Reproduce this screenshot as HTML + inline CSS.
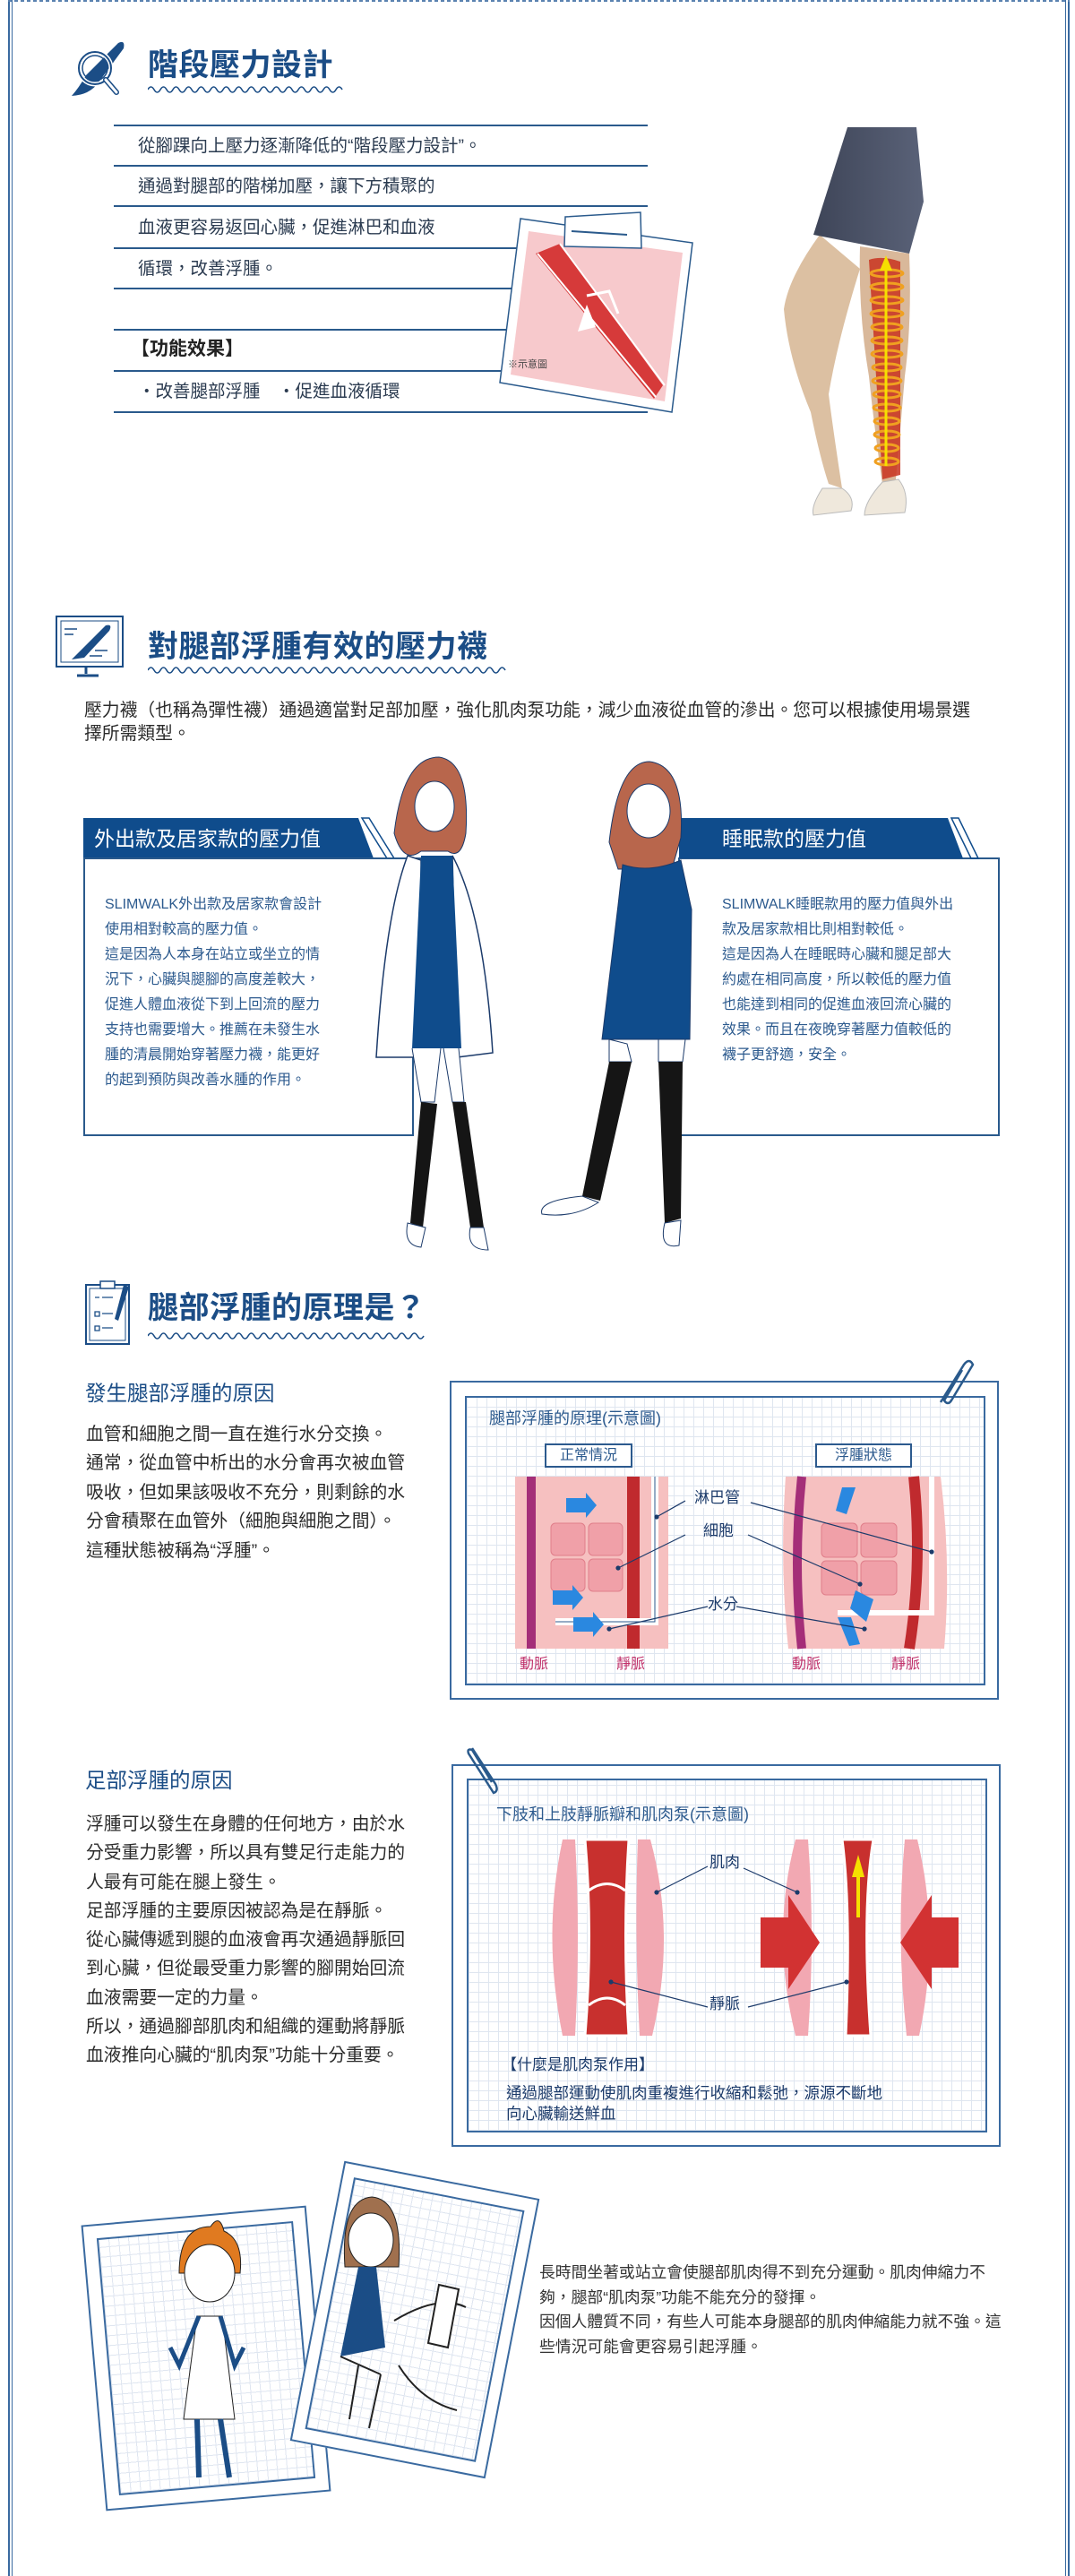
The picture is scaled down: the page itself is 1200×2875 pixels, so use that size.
<!DOCTYPE html>
<html><head><meta charset="utf-8">
<style>
*{margin:0;padding:0;box-sizing:border-box}
body{width:1200px;height:2875px;position:relative;background:#fff;font-family:"Liberation Sans","Noto Sans CJK TC",sans-serif;color:#333;overflow:hidden}
.a{position:absolute}
.h{position:absolute;font-size:34px;font-weight:bold;color:#1b4d86;line-height:36px;white-space:nowrap;letter-spacing:0.5px}
.t{position:absolute;white-space:nowrap}
.grid{background-color:#fff;background-image:repeating-linear-gradient(0deg,#dfe6f0 0 1px,transparent 1px 11px),repeating-linear-gradient(90deg,#dfe6f0 0 1px,transparent 1px 11px)}
.hl{position:absolute;left:127px;width:596px;height:2px;background:#2a5a8c}
.r1{position:absolute;left:154px;font-size:19.5px;line-height:24px;color:#2b3b50;white-space:nowrap}
</style></head><body>

<!-- page frame -->
<div class="a" style="left:9px;top:0;width:2px;height:2875px;background:#3a6aa0"></div>
<div class="a" style="left:13px;top:0;width:1px;height:2875px;background:#3a6aa0"></div>
<div class="a" style="left:1189px;top:0;width:1px;height:2875px;background:#3a6aa0"></div>
<div class="a" style="left:1192px;top:0;width:2px;height:2875px;background:#3a6aa0"></div>
<div class="a" style="left:9px;top:0;width:1185px;height:2px;background:repeating-linear-gradient(90deg,#5a82b0 0 4px,transparent 4px 7px)"></div>

<!-- SECTION 1 -->
<svg class="a" style="left:70px;top:40px" width="80" height="75" viewBox="0 0 80 75">
<path d="M62 8 Q70 4 68 14 L40 52 Q30 66 10 67 Q18 58 26 44 Z" fill="#1b4d86"/>
<circle cx="36" cy="36" r="18" fill="none" stroke="#fff" stroke-width="5"/>
<circle cx="36" cy="36" r="18" fill="none" stroke="#1b4d86" stroke-width="2"/>
<circle cx="36" cy="36" r="14" fill="none" stroke="#1b4d86" stroke-width="1.5"/>
<path d="M48 49 L60 63" stroke="#1b4d86" stroke-width="6" stroke-linecap="round"/>
<path d="M48 49 L60 63" stroke="#fff" stroke-width="3" stroke-linecap="round"/>
</svg>
<div class="h" style="left:165px;top:55px">階段壓力設計</div>
<svg class="a" style="left:165px;top:94px" width="220" height="12"><path d="M0 6 q3.5 -6 7 0 t7 0 t7 0 t7 0 t7 0 t7 0 t7 0 t7 0 t7 0 t7 0 t7 0 t7 0 t7 0 t7 0 t7 0 t7 0 t7 0 t7 0 t7 0 t7 0 t7 0 t7 0 t7 0 t7 0 t7 0 t7 0 t7 0 t7 0 t7 0 t7 0 t7 0" fill="none" stroke="#1b4d86" stroke-width="1.6"/></svg>

<div class="hl" style="top:139px"></div>
<div class="hl" style="top:184px"></div>
<div class="hl" style="top:229px"></div>
<div class="hl" style="top:276px"></div>
<div class="hl" style="top:321px"></div>
<div class="hl" style="top:367px"></div>
<div class="hl" style="top:413px"></div>
<div class="hl" style="top:459px"></div>
<div class="r1" style="top:151px">從腳踝向上壓力逐漸降低的“階段壓力設計”。</div>
<div class="r1" style="top:196px">通過對腿部的階梯加壓，讓下方積聚的</div>
<div class="r1" style="top:242px">血液更容易返回心臟，促進淋巴和血液</div>
<div class="r1" style="top:288px">循環，改善浮腫。</div>
<div class="r1" style="left:146px;top:378px;font-size:21px;font-weight:bold;color:#222">【功能效果】</div>
<div class="r1" style="top:425px">・改善腿部浮腫　・促進血液循環</div>

<!-- note -->
<svg class="a" style="left:550px;top:230px" width="235" height="240" viewBox="550 230 235 240">
<polygon points="581,244 773,271 750,460 558,427" fill="#fff" stroke="#2a5a8c" stroke-width="1.5"/>
<polygon points="590,258 762,282 742,448 570,418" fill="#f7c9cc"/>
<polygon points="598,283 625,272 740,430 730,445" fill="#d63a3a"/>
<path d="M600 283 L732 443 M625 272 L742 430" stroke="#fff" stroke-width="2"/>
<path d="M655 330 L680 325 L690 350" fill="none" stroke="#fff" stroke-width="3"/>
<path d="M645 370 l10 -30 l10 25 z" fill="#fff"/>
<polygon points="631,242 715,237 716,277 630,275" fill="#fff" stroke="#2a5a8c" stroke-width="1.5"/>
<line x1="638" y1="258" x2="700" y2="262" stroke="#2a5a8c" stroke-width="2"/>
<text x="567" y="410" font-size="11" fill="#444" font-family="Liberation Sans,Noto Sans CJK TC,sans-serif">※示意圖</text>
</svg>

<!-- leg photo -->
<svg class="a" style="left:860px;top:140px" width="190" height="440" viewBox="860 140 190 440">
<defs><linearGradient id="sk" x1="0" x2="1"><stop offset="0" stop-color="#3e4558"/><stop offset="1" stop-color="#5a6278"/></linearGradient></defs>
<path d="M915 262 Q880 310 875 345 Q880 400 905 460 Q915 510 925 540 L940 545 Q930 480 925 440 Q935 380 960 300 Z" fill="#dcc0a2"/>
<path d="M960 275 L1015 283 Q1018 360 1010 420 Q1005 480 1000 535 L985 540 Q975 470 970 420 Q958 350 960 275 Z" fill="#d9b89a"/>
<path d="M970 290 Q985 285 1005 292 L1005 530 L985 535 Z" fill="#c8321e" opacity="0.85"/>
<g fill="none" stroke="#f0a020" stroke-width="3">
<ellipse cx="990" cy="305" rx="18" ry="4"/><ellipse cx="990" cy="320" rx="18" ry="4"/><ellipse cx="990" cy="335" rx="18" ry="4"/><ellipse cx="990" cy="350" rx="18" ry="4"/><ellipse cx="990" cy="365" rx="17" ry="4"/><ellipse cx="990" cy="380" rx="17" ry="4"/><ellipse cx="990" cy="395" rx="17" ry="4"/><ellipse cx="990" cy="410" rx="16" ry="4"/><ellipse cx="990" cy="425" rx="16" ry="4"/><ellipse cx="990" cy="440" rx="15" ry="4"/><ellipse cx="990" cy="455" rx="15" ry="4"/><ellipse cx="990" cy="470" rx="14" ry="4"/><ellipse cx="990" cy="485" rx="14" ry="4"/><ellipse cx="990" cy="500" rx="13" ry="4"/><ellipse cx="990" cy="515" rx="13" ry="4"/></g>
<path d="M989 520 L989 300" stroke="#f5e000" stroke-width="3"/><path d="M982 302 L989 285 L996 302 Z" fill="#f5e000"/>
<polygon points="946,142 1023,142 1031,225 1015,283 908,262" fill="url(#sk)"/>
<path d="M918 545 Q905 565 908 575 L950 570 Q955 555 940 545 Z" fill="#efe8dc" stroke="#bbb"/>
<path d="M985 538 Q965 560 965 575 L1010 572 Q1015 550 1003 535 Z" fill="#efe8dc" stroke="#bbb"/>
</svg>

<!-- SECTION 2 -->
<svg class="a" style="left:60px;top:686px" width="82" height="75" viewBox="0 0 82 75">
<rect x="3" y="2" width="74" height="56" fill="#fff" stroke="#1b4d86" stroke-width="2"/>
<rect x="8" y="7" width="64" height="46" fill="none" stroke="#1b4d86" stroke-width="1"/>
<path d="M58 12 Q66 10 62 18 L34 48 L20 50 Z" fill="#1b4d86"/>
<path d="M12 16 h14 M12 22 h10 M46 40 h14 M40 46 h14" stroke="#1b4d86" stroke-width="1.5"/>
<path d="M36 58 v8 M26 68 h24" stroke="#1b4d86" stroke-width="3"/>
</svg>
<div class="h" style="left:165px;top:704px">對腿部浮腫有效的壓力襪</div>
<svg class="a" style="left:165px;top:742px" width="400" height="12"><path d="M0 6 q3.5 -6 7 0 t7 0 t7 0 t7 0 t7 0 t7 0 t7 0 t7 0 t7 0 t7 0 t7 0 t7 0 t7 0 t7 0 t7 0 t7 0 t7 0 t7 0 t7 0 t7 0 t7 0 t7 0 t7 0 t7 0 t7 0 t7 0 t7 0 t7 0 t7 0 t7 0 t7 0 t7 0 t7 0 t7 0 t7 0 t7 0 t7 0 t7 0 t7 0 t7 0 t7 0 t7 0 t7 0 t7 0 t7 0 t7 0 t7 0 t7 0 t7 0 t7 0 t7 0 t7 0 t7 0 t7 0 t7 0 t7 0 t7 0" fill="none" stroke="#1b4d86" stroke-width="1.6"/></svg>
<div class="t" style="left:94px;top:780px;font-size:19.8px;line-height:26px;color:#2b2b2b">壓力襪（也稱為彈性襪）通過適當對足部加壓，強化肌肉泵功能，減少血液從血管的滲出。您可以根據使用場景選<br>擇所需類型。</div>

<!-- left box -->
<svg class="a" style="left:85px;top:905px" width="400" height="370" viewBox="85 905 400 370">
<polygon points="93,913 400,913 417,958 93,958" fill="#0f4c8c"/>
<polygon points="404,913 412,913 440,958 432,958" fill="none" stroke="#0f4c8c" stroke-width="1.5"/>
<polyline points="440,958 470,958" stroke="#2a5a8c" stroke-width="2" fill="none"/>
<rect x="94" y="958" width="367" height="309" fill="#fff" stroke="#2a5a8c" stroke-width="2"/>
</svg>
<div class="t" style="left:105px;top:921px;font-size:23px;line-height:30px;color:#fff">外出款及居家款的壓力值</div>
<div class="t" style="left:117px;top:996px;font-size:16px;line-height:28px;color:#2c5a8e">SLIMWALK外出款及居家款會設計<br>使用相對較高的壓力值。<br>這是因為人本身在站立或坐立的情<br>況下，心臟與腿腳的高度差較大，<br>促進人體血液從下到上回流的壓力<br>支持也需要增大。推薦在未發生水<br>腫的清晨開始穿著壓力襪，能更好<br>的起到預防與改善水腫的作用。</div>

<!-- right box -->
<svg class="a" style="left:750px;top:905px" width="380" height="370" viewBox="750 905 380 370">
<rect x="758" y="958" width="357" height="309" fill="#fff" stroke="#2a5a8c" stroke-width="2"/>
<polygon points="758,913 1058,913 1075,958 758,958" fill="#0f4c8c"/>
<polygon points="1062,913 1070,913 1092,958 1084,958" fill="none" stroke="#0f4c8c" stroke-width="1.5"/>
</svg>
<div class="t" style="left:806px;top:921px;font-size:23px;line-height:30px;color:#fff">睡眠款的壓力值</div>
<div class="t" style="left:806px;top:996px;font-size:16px;line-height:28px;color:#2c5a8e">SLIMWALK睡眠款用的壓力值與外出<br>款及居家款相比則相對較低。<br>這是因為人在睡眠時心臟和腿足部大<br>約處在相同高度，所以較低的壓力值<br>也能達到相同的促進血液回流心臟的<br>效果。而且在夜晚穿著壓力值較低的<br>襪子更舒適，安全。</div>

<!-- girls -->
<svg class="a" style="left:400px;top:840px" width="400" height="565" viewBox="400 840 400 565">
<!-- left girl -->
<path d="M440 930 Q450 845 490 845 Q525 850 520 930 Q515 960 500 950 L470 950 Q450 965 440 930 Z" fill="#b8664c" stroke="#1b3a6a"/>
<ellipse cx="485" cy="900" rx="22" ry="28" fill="#fff" stroke="#1b3a6a"/>
<path d="M465 880 Q480 860 505 880 L505 870 Q485 850 462 875 Z" fill="#b8664c"/>
<path d="M455 955 Q430 1020 420 1180 L470 1180 L470 960 Z M505 955 Q540 1020 550 1175 L510 1180 Z" fill="#fff" stroke="#1b3a6a" stroke-width="1.5"/>
<path d="M470 955 L505 955 L515 1170 L460 1170 Z" fill="#0f4c8c"/>
<path d="M460 1170 L470 1230 L485 1230 L492 1170 M495 1170 L505 1230 L518 1230 L512 1170" fill="#fff" stroke="#1b3a6a"/>
<path d="M470 1230 L458 1365 L472 1370 L488 1232 Z M505 1230 L525 1370 L540 1370 L520 1230 Z" fill="#151515"/>
<path d="M455 1365 Q450 1390 470 1392 L475 1370 Z M525 1370 Q520 1395 545 1395 L540 1370 Z" fill="#fff" stroke="#1b3a6a"/>
<!-- right girl -->
<path d="M680 940 Q690 850 725 850 Q765 855 760 935 L750 970 L690 970 Z" fill="#b8664c" stroke="#1b3a6a"/>
<ellipse cx="724" cy="905" rx="24" ry="30" fill="#fff" stroke="#1b3a6a"/>
<path d="M700 885 Q720 860 748 885 L745 870 Q722 852 700 875 Z" fill="#b8664c"/>
<path d="M695 965 Q725 975 760 960 L772 1015 L770 1160 L672 1160 L690 1010 Z" fill="#0f4c8c" stroke="#1b3a6a"/>
<path d="M680 1160 L700 1165 L705 1185 L680 1185 Z M735 1160 L765 1160 L762 1185 L735 1185 Z" fill="#fff" stroke="#1b3a6a"/>
<path d="M680 1185 L705 1185 L670 1340 L650 1335 Z M735 1185 L762 1185 L760 1360 L742 1365 Z" fill="#151515"/>
<path d="M650 1335 Q600 1340 605 1355 Q640 1360 668 1342 Z M742 1365 Q735 1395 758 1390 L760 1362 Z" fill="#fff" stroke="#1b3a6a"/>
</svg>

<!-- SECTION 3 -->
<svg class="a" style="left:94px;top:1428px" width="56" height="76" viewBox="0 0 56 76">
<rect x="2" y="6" width="48" height="66" fill="#fff" stroke="#1b4d86" stroke-width="2"/>
<rect x="6" y="10" width="40" height="58" fill="none" stroke="#1b4d86" stroke-width="1"/>
<rect x="18" y="2" width="16" height="8" fill="#fff" stroke="#1b4d86" stroke-width="1.5"/>
<path d="M12 20 h5 M12 36 h5 v5 h-5z M12 52 h5 v5 h-5z M20 20 h12 M20 38 h12 M20 54 h12" stroke="#1b4d86" stroke-width="1.3" fill="none"/>
<path d="M44 6 L50 8 L38 46 L34 44 Z" fill="#1b4d86"/>
</svg>
<div class="h" style="left:165px;top:1442px">腿部浮腫的原理是？</div>
<svg class="a" style="left:165px;top:1485px" width="312" height="12"><path d="M0 6 q3.5 -6 7 0 t7 0 t7 0 t7 0 t7 0 t7 0 t7 0 t7 0 t7 0 t7 0 t7 0 t7 0 t7 0 t7 0 t7 0 t7 0 t7 0 t7 0 t7 0 t7 0 t7 0 t7 0 t7 0 t7 0 t7 0 t7 0 t7 0 t7 0 t7 0 t7 0 t7 0 t7 0 t7 0 t7 0 t7 0 t7 0 t7 0 t7 0 t7 0 t7 0 t7 0 t7 0 t7 0 t7 0" fill="none" stroke="#1b4d86" stroke-width="1.6"/></svg>

<div class="t" style="left:95px;top:1540px;font-size:23.5px;line-height:30px;color:#1b4d86">發生腿部浮腫的原因</div>
<div class="t" style="left:96px;top:1585px;font-size:19.8px;line-height:32.4px;color:#2b2b2b">血管和細胞之間一直在進行水分交換。<br>通常，從血管中析出的水分會再次被血管<br>吸收，但如果該吸收不充分，則剩餘的水<br>分會積聚在血管外（細胞與細胞之間）。<br>這種狀態被稱為“浮腫”。</div>

<div class="a" style="left:502px;top:1541px;width:613px;height:356px;border:2px solid #3a6aa0;background:#fff"></div>
<div class="a grid" style="left:519px;top:1558px;width:581px;height:323px;border:2px solid #3a6aa0"></div>
<svg class="a" style="left:1040px;top:1515px" width="50" height="60"><path d="M10 50 L36 8 Q42 0 46 8 L22 48 Q18 54 14 48 L34 14" fill="none" stroke="#2a5a8c" stroke-width="2.5"/></svg>
<div class="t" style="left:546px;top:1571px;font-size:18px;line-height:24px;color:#2c5a8e">腿部浮腫的原理(示意圖)</div>
<div class="t" style="left:608px;top:1611px;width:98px;height:27px;border:2px solid #2c5a8e;background:#fff;font-size:16px;line-height:23px;text-align:center;color:#2c5a8e">正常情況</div>
<div class="t" style="left:910px;top:1611px;width:108px;height:27px;border:2px solid #2c5a8e;background:#fff;font-size:16px;line-height:23px;text-align:center;color:#2c5a8e">浮腫狀態</div>
<svg class="a" style="left:560px;top:1640px" width="510" height="210" viewBox="560 1640 510 210">
<rect x="575" y="1648" width="171" height="192" fill="#f6c0c0"/>
<rect x="588" y="1648" width="10" height="192" fill="#a42e78"/>
<rect x="700" y="1648" width="14" height="192" fill="#c02a2e"/>
<path d="M731 1648 V1810 H620" fill="none" stroke="#fff" stroke-width="8"/>
<path d="M731 1648 V1810 H620" fill="none" stroke="#2c5a8e" stroke-width="1"/>
<g fill="#f0a0a8" stroke="#e07e8a"><rect x="615" y="1700" width="38" height="36" rx="5"/><rect x="657" y="1700" width="38" height="36" rx="5"/><rect x="615" y="1740" width="38" height="36" rx="5"/><rect x="657" y="1740" width="38" height="36" rx="5"/></g>
<g fill="#2a88e0"><path d="M632 1672 h22 v-6 l12 14 l-12 14 v-6 h-22z"/><path d="M617 1775 h22 v-6 l12 14 l-12 14 v-6 h-22z"/><path d="M640 1805 h22 v-6 l12 14 l-12 14 v-6 h-22z"/></g>
<path d="M877 1648 Q870 1745 880 1840 H1054 Q1062 1745 1050 1648 Z" fill="#f6c0c0"/>
<path d="M895 1648 Q885 1745 895 1840" stroke="#a42e78" stroke-width="10" fill="none"/>
<path d="M1020 1648 Q1030 1745 1015 1840" stroke="#c02a2e" stroke-width="12" fill="none"/>
<path d="M1040 1648 V1800 H935" fill="none" stroke="#fff" stroke-width="6"/>
<g fill="#f0a0a8" stroke="#e07e8a"><rect x="917" y="1700" width="40" height="38" rx="5"/><rect x="961" y="1700" width="40" height="38" rx="5"/><rect x="917" y="1742" width="40" height="38" rx="5"/><rect x="961" y="1742" width="40" height="38" rx="5"/></g>
<g fill="#2a88e0"><path d="M940 1660 l15 0 l-10 30 l-12 -4 z"/><path d="M955 1775 l20 10 l-8 25 l-18 -15 z"/><path d="M935 1805 l15 0 l10 30 l-12 2 z"/></g>
<g stroke="#1b3a6a" stroke-width="1.2" fill="#1b3a6a"><line x1="733" y1="1693" x2="765" y2="1675"/><circle cx="733" cy="1693" r="2"/><line x1="838" y1="1677" x2="1040" y2="1732"/><circle cx="1040" cy="1732" r="2"/><line x1="690" y1="1750" x2="765" y2="1713"/><circle cx="690" cy="1750" r="2"/><line x1="835" y1="1713" x2="960" y2="1768"/><circle cx="960" cy="1768" r="2"/><line x1="680" y1="1818" x2="790" y2="1793"/><circle cx="680" cy="1818" r="2"/><line x1="822" y1="1793" x2="965" y2="1818"/><circle cx="965" cy="1818" r="2"/></g>
</svg>
<div class="t" style="left:775px;top:1661px;font-size:17px;line-height:22px;color:#1b3a6a;background:rgba(255,255,255,.8)">淋巴管</div>
<div class="t" style="left:785px;top:1698px;font-size:17px;line-height:22px;color:#1b3a6a">細胞</div>
<div class="t" style="left:790px;top:1780px;font-size:17px;line-height:22px;color:#1b3a6a">水分</div>
<div class="t" style="left:580px;top:1848px;font-size:16px;line-height:20px;color:#c0306a">動脈</div>
<div class="t" style="left:688px;top:1848px;font-size:16px;line-height:20px;color:#c0306a">靜脈</div>
<div class="t" style="left:884px;top:1848px;font-size:16px;line-height:20px;color:#c0306a">動脈</div>
<div class="t" style="left:995px;top:1848px;font-size:16px;line-height:20px;color:#c0306a">靜脈</div>

<!-- SECTION 4 -->
<div class="t" style="left:95px;top:1972px;font-size:23.5px;line-height:30px;color:#1b4d86">足部浮腫的原因</div>
<div class="t" style="left:96px;top:2020px;font-size:19.8px;line-height:32.3px;color:#2b2b2b">浮腫可以發生在身體的任何地方，由於水<br>分受重力影響，所以具有雙足行走能力的<br>人最有可能在腿上發生。<br>足部浮腫的主要原因被認為是在靜脈。<br>從心臟傳遞到腿的血液會再次通過靜脈回<br>到心臟，但從最受重力影響的腳開始回流<br>血液需要一定的力量。<br>所以，通過腳部肌肉和組織的運動將靜脈<br>血液推向心臟的“肌肉泵”功能十分重要。</div>

<div class="a" style="left:504px;top:1969px;width:613px;height:427px;border:2px solid #3a6aa0;background:#fff"></div>
<div class="a grid" style="left:521px;top:1985px;width:581px;height:395px;border:2px solid #3a6aa0"></div>
<svg class="a" style="left:515px;top:1945px" width="50" height="60"><path d="M12 6 L38 46 Q42 54 36 56 L8 12 Q6 6 12 8 L34 44" fill="none" stroke="#2a5a8c" stroke-width="2.5"/></svg>
<div class="t" style="left:554px;top:2013px;font-size:18px;line-height:24px;color:#2c5a8e">下肢和上肢靜脈瓣和肌肉泵(示意圖)</div>
<svg class="a" style="left:600px;top:2050px" width="480" height="230" viewBox="600 2050 480 230">
<g fill="#f2a8b2"><path d="M628 2053 L642 2053 Q648 2160 642 2272 L628 2272 Q605 2160 628 2053 Z"/><path d="M712 2053 L726 2053 Q755 2160 728 2272 L714 2272 Q708 2160 712 2053 Z"/>
<path d="M888 2053 L902 2053 Q910 2160 902 2272 L888 2272 Q860 2160 888 2053 Z"/><path d="M1010 2053 L1024 2053 Q1050 2160 1026 2272 L1012 2272 Q1000 2160 1010 2053 Z"/></g>
<path d="M653 2053 H702 Q695 2160 702 2272 H653 Q662 2160 653 2053 Z" fill="#c8302e" stroke="#fff" stroke-width="3"/>
<path d="M940 2053 H975 Q962 2130 972 2272 H944 Q950 2130 940 2053 Z" fill="#c8302e" stroke="#fff" stroke-width="3"/>
<path d="M657 2110 Q678 2095 698 2110 M657 2238 Q678 2222 698 2238" stroke="#fff" stroke-width="3" fill="none"/>
<path d="M958 2070 L965 2095 L960 2095 L960 2140 L956 2140 L956 2095 L951 2095 Z" fill="#f5e000"/>
<path d="M849 2140 H880 V2115 L915 2168 L880 2220 V2196 H849 Z" fill="#d23232"/>
<path d="M1070 2140 H1040 V2115 L1005 2168 L1040 2220 V2196 H1070 Z" fill="#d23232"/>
<g stroke="#1b3a6a" stroke-width="1.2" fill="#1b3a6a"><line x1="733" y1="2112" x2="790" y2="2083"/><circle cx="733" cy="2112" r="2"/><line x1="830" y1="2085" x2="890" y2="2112"/><circle cx="890" cy="2112" r="2"/><line x1="682" y1="2212" x2="790" y2="2240"/><circle cx="682" cy="2212" r="2"/><line x1="835" y1="2240" x2="945" y2="2212"/><circle cx="945" cy="2212" r="2"/></g>
</svg>
<div class="t" style="left:792px;top:2068px;font-size:17px;line-height:22px;color:#1b3a6a">肌肉</div>
<div class="t" style="left:792px;top:2226px;font-size:17px;line-height:22px;color:#1b3a6a">靜脈</div>
<div class="t" style="left:560px;top:2293px;font-size:17px;line-height:24px;color:#1b3a6a">【什麼是肌肉泵作用】</div>
<div class="t" style="left:565px;top:2325px;font-size:17.5px;line-height:23px;color:#1b3a6a">通過腿部運動使肌肉重複進行收縮和鬆弛，源源不斷地<br>向心臟輸送鮮血</div>

<!-- SECTION 5 photos -->
<div class="a" style="left:104px;top:2472px;width:252px;height:320px;border:2px solid #3a6aa0;background:#fff;transform:rotate(-5deg);transform-origin:center">
<div class="grid" style="position:absolute;left:14px;top:14px;right:14px;bottom:14px;border:2px solid #3a6aa0"></div></div>
<div class="a" style="left:352px;top:2430px;width:222px;height:318px;border:2px solid #3a6aa0;background:#fff;transform:rotate(11deg);transform-origin:center">
<div class="grid" style="position:absolute;left:12px;top:14px;right:12px;bottom:14px;border:2px solid #3a6aa0"></div></div>
<svg class="a" style="left:140px;top:2440px" width="420" height="340" viewBox="140 2440 420 340">
<!-- standing woman -->
<path d="M200 2537 Q200 2485 235 2485 Q245 2470 250 2490 Q272 2500 268 2537 Z" fill="#e07a20" stroke="#222"/>
<ellipse cx="234" cy="2537" rx="28" ry="32" fill="#fff" stroke="#222"/>
<path d="M220 2585 L248 2585 L262 2700 L205 2700 Z" fill="#fff" stroke="#222"/>
<path d="M222 2585 L200 2640 L190 2620 M246 2585 L262 2640 L272 2620" fill="none" stroke="#1b4d86" stroke-width="5"/>
<path d="M220 2700 L222 2765 M246 2700 L256 2765" stroke="#1b4d86" stroke-width="6"/>
<!-- sitting woman -->
<path d="M385 2530 Q380 2455 415 2452 Q450 2455 445 2530 Z" fill="#a0704e" stroke="#222"/>
<ellipse cx="414" cy="2500" rx="25" ry="30" fill="#fff" stroke="#222"/>
<path d="M400 2530 L420 2530 L430 2620 L380 2630 Z" fill="#1b4d86"/>
<path d="M380 2630 L425 2650 M400 2640 L390 2700 M425 2650 L412 2710" stroke="#222" stroke-width="2" fill="none"/>
<path d="M440 2590 Q490 2560 520 2575 M445 2640 Q470 2680 510 2690" stroke="#222" stroke-width="2" fill="none"/>
<path d="M490 2550 L512 2555 L500 2620 L478 2615 Z" fill="#fff" stroke="#222" stroke-width="2"/>
</svg>
<div class="t" style="left:602px;top:2523px;font-size:17.8px;line-height:27.5px;color:#333">長時間坐著或站立會使腿部肌肉得不到充分運動。肌肉伸縮力不<br>夠，腿部“肌肉泵”功能不能充分的發揮。<br>因個人體質不同，有些人可能本身腿部的肌肉伸縮能力就不強。這<br>些情況可能會更容易引起浮腫。</div>
</body></html>
